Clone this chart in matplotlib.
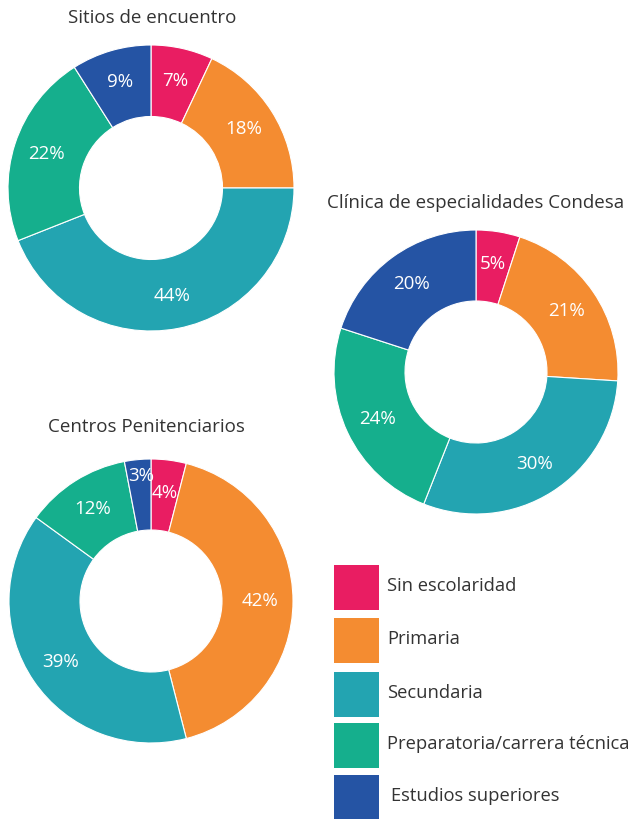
import matplotlib.pyplot as plt
from matplotlib.patches import Rectangle

# categories and colours
categories = ["Sin escolaridad", "Primaria", "Secundaria",
              "Preparatoria/carrera técnica", "Estudios superiores"]
colors = ["#E91D62", "#F48C31", "#23A4B1", "#15AF8D", "#2554A4"]

# percentages per site
sitios = [7, 18, 44, 22, 9]
clinica = [5, 21, 30, 24, 20]
centros = [4, 42, 39, 12, 3]

titles = ["Sitios de encuentro", "Clínica de especialidades Condesa",
          "Centros Penitenciarios"]

plt.rcParams['font.family'] = ['Open Sans', 'DejaVu Sans']
W, H = 630, 819
TXT = "#333333"

fig = plt.figure(figsize=(W / 100, H / 100), dpi=100)

# overlay axes in pixel coordinates for titles and legend
over = fig.add_axes([0, 0, 1, 1])
over.set_xlim(0, W)
over.set_ylim(H, 0)
over.axis("off")


def donut(values, cx, cy, r, title, tx, ty):
    m = 1.04
    ax = fig.add_axes([(cx - r * m) / W, 1 - (cy + r * m) / H,
                       2 * r * m / W, 2 * r * m / H])
    wedges, _, pcts = ax.pie(values, colors=colors, startangle=90,
                             counterclock=False, radius=1,
                             autopct=lambda p: f"{round(p)}%",
                             pctdistance=0.77,
                             wedgeprops=dict(width=0.5, edgecolor="white", linewidth=0.8),
                             textprops=dict(color="white", fontsize=13.5))
    ax.set_xlim(-m, m)
    ax.set_ylim(-m, m)
    ax.set_aspect("equal")
    ax.axis("off")
    over.text(tx, ty, title, ha="center", va="center", fontsize=13.5, color=TXT)
    return pcts


donut(sitios, 151, 188, 143, titles[0], 152, 18)
donut(clinica, 476, 372, 142, titles[1], 476, 203)
p = donut(centros, 151, 601, 142, titles[2], 146, 427)
# nudge the tiny 3% label outward as in the original
x, y = p[4].get_position()
p[4].set_position((x * 1.0, y * 1.15))

# legend
box_y = [565, 618, 672, 723, 775]
for i, (name, c) in enumerate(zip(categories, colors)):
    over.add_patch(Rectangle((334, box_y[i]), 45, 45, facecolor=c, edgecolor="none"))
    over.text(387 if i < 4 else 391, box_y[i] + 21, name, ha="left", va="center",
              fontsize=13.2, color=TXT)

fig.savefig("out.png", dpi=100)
